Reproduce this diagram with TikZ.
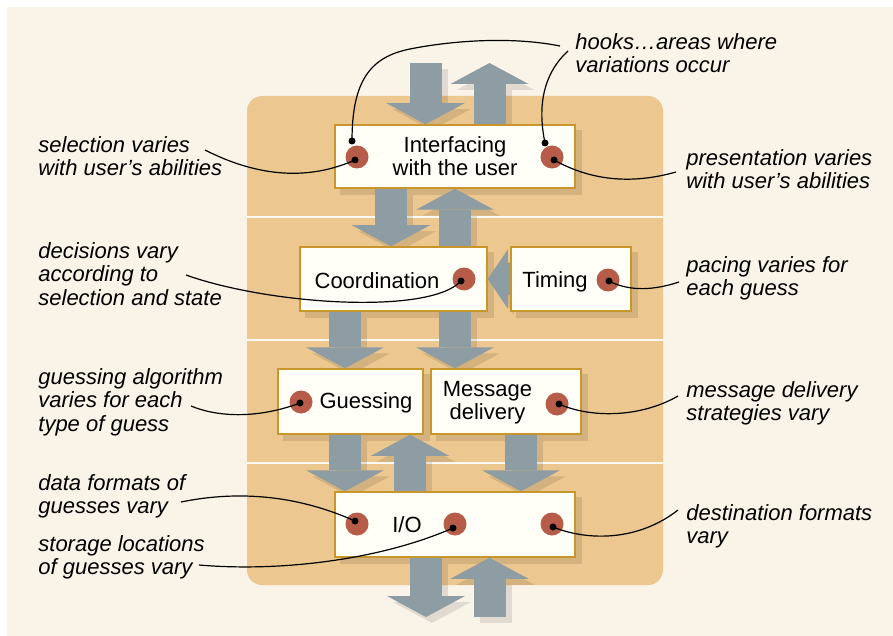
\documentclass[tikz,border=0pt]{standalone}
\usepackage{fontspec}
\setmainfont{Liberation Sans}
\usetikzlibrary{arrows.meta,fit,backgrounds}
\definecolor{paper}{RGB}{250,243,232}
\definecolor{panel}{RGB}{236,199,143}
\definecolor{boxfill}{RGB}{255,254,247}
\definecolor{boxline}{RGB}{200,150,42}
\definecolor{flow}{RGB}{142,156,163}
\definecolor{hookred}{RGB}{183,92,72}
\newcommand{\flowarrows}[1]{%
  \draw[#1] (usrin) -- (usrin |- ui.north);
  \draw[#1] (ui.north -| usrout) -- (usrout);
  \draw[#1] (391,0 |- ui.south) -- (391,0 |- coord.north);
  \draw[#1] (455,0 |- coord.north) -- (455,0 |- ui.south);
  \draw[#1,sidetip] (timing.west) -- (coord.east);
  \draw[#1] (345,0 |- coord.south) -- (345,0 |- guess.north);
  \draw[#1] (455,0 |- coord.south) -- (455,0 |- msg.north);
  \draw[#1] (345,0 |- guess.south) -- (345,0 |- io.north);
  \draw[#1] (410,0 |- io.north) -- (410,0 |- guess.south);
  \draw[#1] (521,0 |- msg.south) -- (521,0 |- io.north);
  \draw[#1] (dataout |- io.south) -- (dataout);
  \draw[#1] (datain) -- (datain |- io.south);
}
\begin{document}
\begin{tikzpicture}[x=0.5pt,y=-0.5pt,
    box/.style={rectangle,draw=boxline,fill=boxfill,line width=0.75pt,inner sep=0pt},
    btxt/.style={font=\fontsize{11}{11.5}\selectfont,inner sep=0pt,align=center},
    note/.style={font=\fontsize{11}{11.75}\selectfont\itshape,inner sep=0pt,align=left,anchor=north west},
    hookdot/.style={circle,fill=hookred,inner sep=0pt,minimum size=11.5pt},
    lead/.style={line width=0.6pt},
    shade/.style={fill=black,opacity=0.1},
    fat/.style={draw=flow,line width=16pt,-{Triangle[width=39pt,length=10.5pt,line width=0pt]}},
    fatshade/.style={fat,draw=black,opacity=0.1,transform canvas={shift={(6,6)}}},
    sidetip/.style={-{Triangle[width=29.5pt,length=10pt,line width=0pt]}}]
    \useasboundingbox (0,0) rectangle (893,636);
    \node[box,fit={(335,125) (575,188)}] (ui) {};
    \node[box,fit={(300,247) (487,311)}] (coord) {};
    \node[box,fit={(511,247) (631,311)}] (timing) {};
    \node[box,fit={(278,369) (423,434)}] (guess) {};
    \node[box,fit={(431,369) (581,434)}] (msg) {};
    \node[box,fit={(335,492) (575,557)}] (io) {};
    \coordinate (usrin) at (425.5,63);
    \coordinate (usrout) at (489.5,63);
    \coordinate (dataout) at (426,617);
    \coordinate (datain) at (489.5,617);
    \begin{pgfonlayer}{background}
        \fill[white] (0,0) rectangle (893,636);
        \fill[paper] (7,7) rectangle (893,636);
        \fill[panel,rounded corners=7.5pt] (247,96) rectangle (663,585);
        \foreach \y in {217,340,463}
            \draw[white!60!paper,line width=1pt] (247,\y) -- (663,\y);
        \foreach \b in {ui,coord,timing,guess,msg,io}
            \fill[shade] ([shift={(6,6)}]\b.south west) rectangle ([shift={(6,6)}]\b.north east);
        \flowarrows{fatshade}
        \flowarrows{fat}
    \end{pgfonlayer}
    \node[btxt,anchor=north] (uiT) at (455,136) {Interfacing\\with the user};
    \node[btxt,anchor=base] (coordT) at (377,288) {Coordination};
    \node[btxt,anchor=base] (timingT) at (555,287) {Timing};
    \node[btxt,anchor=base] (guessT) at (366,408) {Guessing};
    \node[btxt,anchor=north] (msgT) at (487.5,381) {Message\\delivery};
    \node[btxt,anchor=base] (ioT) at (407,532) {I/O};
    \node[hookdot] (uiL) at (357,157) {};
    \node[hookdot] (uiR) at (552,157) {};
    \node[hookdot] (coordD) at (464,279) {};
    \node[hookdot] (timingD) at (608,280) {};
    \node[hookdot] (guessD) at (301,402) {};
    \node[hookdot] (msgD) at (557,404) {};
    \node[hookdot] (ioA) at (357,524) {};
    \node[hookdot] (ioB) at (455,524) {};
    \node[hookdot] (ioC) at (552,524) {};
    \coordinate (uiLe) at (355,160);
    \coordinate (uiRe) at (554,160);
    \coordinate (coordE) at (461,281);
    \coordinate (timE) at (609,281);
    \coordinate (guessE) at (300,403);
    \coordinate (msgE) at (559,404);
    \coordinate (ioAe) at (355,521);
    \coordinate (ioBe) at (453,528);
    \coordinate (ioCe) at (553,527);
    \coordinate (hookL) at (352,141);
    \coordinate (hookR) at (545,143);
    \node[note] (selN) at (38,136) {selection varies\\with user’s abilities};
    \node[note] (decN) at (38,242) {decisions vary\\according to\\selection and state};
    \node[note] (guessN) at (38,368) {guessing algorithm\\varies for each\\type of guess};
    \node[note] (dataN) at (38,474) {data formats of\\guesses vary};
    \node[note] (storN) at (38,535) {storage locations\\of guesses vary};
    \node[note] (hooksN) at (575,33) {hooks…areas where\\variations occur};
    \node[note] (presN) at (686,149) {presentation varies\\with user’s abilities};
    \node[note] (paceN) at (686,256) {pacing varies for\\each guess};
    \node[note] (msgN) at (686,381) {message delivery\\strategies vary};
    \node[note] (destN) at (686,504) {destination formats\\vary};
    \coordinate (selA) at (205,150);
    \coordinate (decA) at (186,275);
    \coordinate (guessA) at (191,406);
    \coordinate (dataA) at (181,502);
    \coordinate (storA) at (199,565);
    \coordinate (hooksA) at (560,46);
    \coordinate (hooksB) at (568,51);
    \coordinate (presA) at (676,172);
    \coordinate (paceA) at (679,282);
    \coordinate (msgA) at (678,396);
    \coordinate (destA) at (678,510);
    \draw[lead] (selA) .. controls +(55,28) and +(-45,20) .. (uiLe);
    \draw[lead] (hookL) .. controls +(0,-60) and +(-40,8) .. (410,49) .. controls +(40,-8) and +(-50,-10) .. (hooksA);
    \draw[lead] (hookR) .. controls +(-9,-43) and +(-21,19) .. (hooksB);
    \draw[lead] (presA) .. controls +(-46,13) and +(36,20) .. (uiRe);
    \draw[lead] (decA) .. controls +(84,30) and +(-31,34) .. (coordE);
    \draw[lead] (paceA) .. controls +(-24,8) and +(21,11) .. (timE);
    \draw[lead] (guessA) .. controls +(29,12) and +(-40,15) .. (guessE);
    \draw[lead] (msgA) .. controls +(-38,22) and +(31,14) .. (msgE);
    \draw[lead] (dataA) .. controls +(49,-10) and +(-65,-29) .. (ioAe);
    \draw[lead] (storA) .. controls +(81,7) and +(-73,32) .. (ioBe);
    \draw[lead] (destA) .. controls +(-38,30) and +(37,15) .. (ioCe);
    \foreach \p in {uiLe,uiRe,coordE,timE,guessE,msgE,ioAe,ioBe,ioCe,hookL,hookR}
        \fill (\p) circle[radius=3.5];
\end{tikzpicture}
\end{document}
